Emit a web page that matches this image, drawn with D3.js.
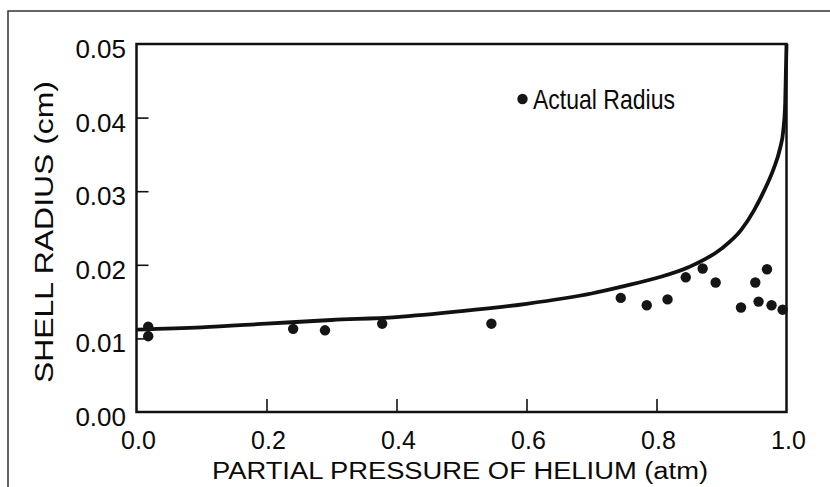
<!DOCTYPE html>
<html>
<head>
<meta charset="utf-8">
<script src="https://cdn.jsdelivr.net/npm/d3@7"></script>
<style>
  body { margin: 0; background: #fff; }
  text { font-family: "Liberation Sans", Arial, Helvetica, sans-serif; fill: #0a0a0a; }
</style>
</head>
<body>
<svg id="chart" width="830" height="487"></svg>
<script>
// model curve: shell radius vs partial pressure of helium
var modelPressure = [0, 0.1, 0.2, 0.3, 0.4, 0.5, 0.6, 0.7, 0.75, 0.8, 0.85, 0.9, 0.93, 0.95, 0.97, 0.98, 0.99, 0.995, 0.998, 1.0];
var modelRadius   = [0.0112, 0.0115, 0.0120, 0.0125, 0.0129, 0.0137, 0.0147, 0.0161, 0.0171, 0.0182, 0.0197, 0.0222, 0.0247, 0.0274, 0.0309, 0.0330, 0.0358, 0.0382, 0.0420, 0.0500];

// measured points (Actual Radius)
var actualPressure = [0.018, 0.018, 0.241, 0.290, 0.378, 0.546, 0.745, 0.785, 0.817, 0.845, 0.871, 0.891, 0.930, 0.952, 0.957, 0.970, 0.977, 0.994];
var actualRadius   = [0.0116, 0.0103, 0.0113, 0.0111, 0.0120, 0.0120, 0.0155, 0.0145, 0.0153, 0.0183, 0.0195, 0.0176, 0.0142, 0.0176, 0.0150, 0.0194, 0.0145, 0.0139];

var xTicks = [0, 0.2, 0.4, 0.6, 0.8, 1.0];
var yTicks = [0, 0.01, 0.02, 0.03, 0.04, 0.05];

var xTitle = "PARTIAL PRESSURE OF HELIUM (atm)"
  , yTitle = "SHELL RADIUS (cm)"
  , legendLabel = "Actual Radius";

var svg = d3.select("#chart")
  , plotLeft = 136.5
  , plotRight = 786.5
  , plotTop = 44
  , plotBottom = 412;

var x = d3.scaleLinear().domain([0, 1]).range([plotLeft, plotRight]);
var y = d3.scaleLinear().domain([0, 0.05]).range([plotBottom, plotTop]);

// outer frame (top and left edges of the scanned figure)
svg.append("path")
  .attr("d", "M8,487 L8,11 L830,11")
  .attr("fill", "none")
  .attr("stroke", "#333")
  .attr("stroke-width", 1.5);

// inner ticks
var xAxis = d3.axisTop(x)
  .tickValues(xTicks.slice(1, -1))
  .tickSize(13)
  .tickFormat("");
svg.append("g")
  .attr("transform", "translate(0," + plotBottom + ")")
  .call(xAxis)
  .call(g => g.select(".domain").remove())
  .selectAll("line").attr("stroke", "#111").attr("stroke-width", 1.6);

var yAxis = d3.axisRight(y)
  .tickValues(yTicks.slice(1, -1))
  .tickSize(12)
  .tickFormat("");
svg.append("g")
  .attr("transform", "translate(" + plotLeft + ",0)")
  .call(yAxis)
  .call(g => g.select(".domain").remove())
  .selectAll("line").attr("stroke", "#111").attr("stroke-width", 1.6);

// tick labels
svg.selectAll(".xlabel")
  .data(xTicks)
 .enter().append("text")
  .attr("class", "xlabel")
  .attr("x", d => x(d) + 2)
  .attr("y", 449)
  .attr("text-anchor", "middle")
  .style("font-size", "25px")
  .text(d3.format(".1f"));

svg.selectAll(".ylabel")
  .data(yTicks)
 .enter().append("text")
  .attr("class", "ylabel")
  .attr("x", 126)
  .attr("y", d => y(d) + 14)
  .attr("text-anchor", "end")
  .style("font-size", "26px")
  .text(d3.format(".2f"));

// titles
svg.append("text")
  .attr("x", 460)
  .attr("y", 479)
  .attr("text-anchor", "middle")
  .attr("textLength", 496)
  .attr("lengthAdjust", "spacingAndGlyphs")
  .style("font-family", "'Liberation Sans Narrow', 'Liberation Sans', Arial, sans-serif")
  .style("font-size", "23px")
  .text(xTitle);

svg.append("text")
  .attr("transform", "translate(53,232) rotate(-90)")
  .attr("text-anchor", "middle")
  .attr("textLength", 302)
  .attr("lengthAdjust", "spacingAndGlyphs")
  .style("font-size", "25px")
  .text(yTitle);

// model curve
var line = d3.line()
  .x(d => x(d[0]))
  .y(d => y(d[1]))
  .curve(d3.curveMonotoneX);

svg.append("path")
  .datum(d3.zip(modelPressure, modelRadius))
  .attr("d", line)
  .attr("fill", "none")
  .attr("stroke", "#111")
  .attr("stroke-width", 3.8);

// plot box
svg.append("rect")
  .attr("x", plotLeft)
  .attr("y", plotTop)
  .attr("width", plotRight - plotLeft)
  .attr("height", plotBottom - plotTop)
  .attr("fill", "none")
  .attr("stroke", "#111")
  .attr("stroke-width", 2.5);

// measured points
svg.selectAll(".pt")
  .data(d3.zip(actualPressure, actualRadius))
 .enter().append("circle")
  .attr("class", "pt")
  .attr("cx", d => x(d[0]))
  .attr("cy", d => y(d[1]))
  .attr("r", 5.2)
  .attr("fill", "#151515");

// legend
svg.append("circle")
  .attr("cx", 522.5)
  .attr("cy", 99)
  .attr("r", 5.2)
  .attr("fill", "#151515");

svg.append("text")
  .attr("x", 533)
  .attr("y", 109)
  .attr("textLength", 142)
  .attr("lengthAdjust", "spacingAndGlyphs")
  .style("font-family", "'Liberation Sans Narrow', 'Liberation Sans', Arial, sans-serif")
  .style("font-size", "28px")
  .text(legendLabel);
</script>
</body>
</html>
